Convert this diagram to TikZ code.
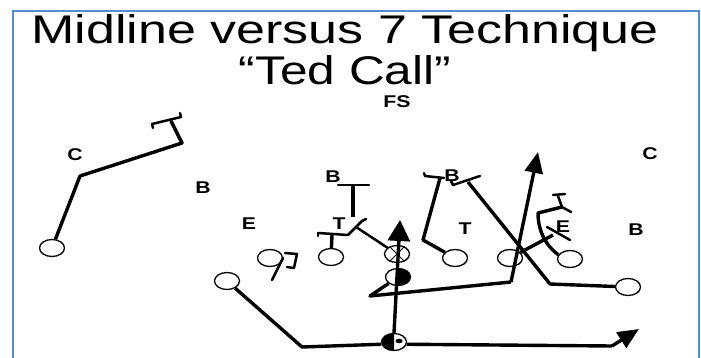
\documentclass[tikz,border=0pt]{standalone}
\usepackage{fontspec}
\setmainfont{Liberation Sans}
\usetikzlibrary{shapes.geometric,arrows.meta}
\definecolor{frameblue}{RGB}{91,139,207}
\begin{document}
\begin{tikzpicture}[x=1pt,y=-1pt,
 player/.style={draw,ellipse,line width=1.3pt,minimum width=25pt,minimum height=17pt,inner sep=0pt,fill=white},
 route/.style={line width=3.4pt,line join=round},
 thin route/.style={line width=2.5pt,line join=round,line cap=round},
 lbl/.style={font=\fontsize{17}{17}\selectfont\bfseries,xscale=1.25,inner sep=0pt},
 ttl/.style={font=\fontsize{40}{40}\selectfont,inner sep=0pt,anchor=base},
 bigarrow/.style={-{Triangle[length=21pt,width=22pt]}},
 midarrow/.style={-{Triangle[length=21pt,width=18pt]}}
]
\useasboundingbox (0,0) rectangle (701,358);
\draw[frameblue,line width=2pt] (12.5,11) rectangle (699,366);

% titles
\node[ttl,xscale=1.3] (t1) at (345,44) {Midline versus 7 Technique};
\node[ttl,xscale=1.24] (t2) at (345,85) {“Ted Call”};

% labels
\node[lbl] (fs) at (397,102) {FS};
\node[lbl] (cl) at (75,155) {C};
\node[lbl] (cr) at (650,154) {C};
\node[lbl] (b1) at (203,188) {B};
\node[lbl] (b2) at (333,177) {B};
\node[lbl] (b3) at (452,176) {B};
\node[lbl] (b4) at (636,230) {B};
\node[lbl] (e1) at (249,224) {E};
\node[lbl] (e2) at (563,227) {E};
\node[lbl] (t1l) at (339,224) {T};
\node[lbl] (t2l) at (465,229) {T};

% players
\node[player] (lc) at (52,248) {};
\node[player] (lwr) at (227,281) {};
\node[player] (lt) at (270,258) {};
\node[player] (lg) at (331,257) {};
\node[player] (ctr) at (397,254) {};
\node[player] (rb) at (398,277) {};
\node[player] (qb) at (394,342) {};
\node[player] (rg) at (455,258) {};
\node[player] (rt) at (510,258) {};
\node[player] (te) at (570,259) {};
\node[player] (wr) at (628,287) {};

% center X
\draw[line width=1pt] (ctr.135) -- (ctr.-45) (ctr.45) -- (ctr.-135);
% half-filled back
\begin{scope}
\clip ([yshift=-12pt]rb.center) rectangle ([xshift=15pt,yshift=12pt]rb.center);
\fill (rb.center) ellipse [x radius=12.5pt,y radius=8.5pt];
\end{scope}
% QB
\begin{scope}
\clip ([yshift=-12pt]qb.center) rectangle ([xshift=-15pt,yshift=12pt]qb.center);
\fill (qb.center) ellipse [x radius=12.5pt,y radius=8.5pt];
\end{scope}
\fill ([xshift=5pt,yshift=1pt]qb.center) ellipse [x radius=3.5pt,y radius=2.3pt];

% coordinates
\coordinate (cA) at (80,176);
\coordinate (cB) at (182,143);
\coordinate (cC) at (171,121);
\coordinate (cD) at (152,124);
\coordinate (cE) at (181,117);

\coordinate (ltA) at (283,258);
\coordinate (ltB) at (272,280);

\coordinate (lgA) at (332,235);
\coordinate (lgL) at (318,233);
\coordinate (lgR) at (348,235);
\coordinate (lgU) at (362,221);

\coordinate (bbL) at (338,185);
\coordinate (bbR) at (369,185);
\coordinate (bbM) at (353,185);
\coordinate (bbS) at (353,217);
\coordinate (lgD) at (356,227);

\coordinate (tip1) at (400,220);

\coordinate (rbA) at (370,296);
\coordinate (rbB) at (511,282);
\coordinate (tip2) at (538,152);

\coordinate (rgA) at (423,240);
\coordinate (rgB) at (440,178);
\coordinate (rgL) at (425,176);
\coordinate (rgR) at (444,178);

\coordinate (wrA) at (550,284);
\coordinate (wrB) at (468,182);
\coordinate (wrL) at (453,185);
\coordinate (wrR) at (480,176);

\coordinate (rtA) at (553,235);
\coordinate (rtL) at (547,227);
\coordinate (rtR) at (570,240);

\coordinate (teA) at (538,213);
\coordinate (teB) at (562,207);
\coordinate (teC) at (558,196);
\coordinate (teD) at (571,212);

\coordinate (qbL) at (302,347);
\coordinate (qbR) at (612,346);
\coordinate (tip3) at (639,329);

% routes
\draw[route] (lc) -- (cA) -- (cB) -- (cC);
\draw[thin route] (cD) -- (cE);
\draw[thin route] (cD) -- ++(1,4);
\draw[thin route] (cE) -- ++(-1,-4);

\draw[thin route] (ltA) -- (ltB);
\draw[thin route] (285,253) -- (297,254) -- (294,268) -- (287,267);

\draw[route] (lg) -- (lgA);
\draw[thin route] (lgL) -- (lgR) -- (lgU) -- ++(4,-2);
\draw[thin route] (lgL) -- ++(0,3);
\draw[thin route] (bbL) -- (bbR);
\draw[route] (bbM) -- (bbS);
\draw[thin route] (lgD) -- (ctr);

\draw[route,bigarrow] (qb.north) -- (tip1);

\draw[route] (rb) -- (rbA) -- (rbB);
\draw[route,midarrow] (rbB) -- (tip2);

\draw[route] (rg) -- (rgA) -- (rgB);
\draw[thin route] (rgL) -- (rgR);
\draw[thin route] (rgL) -- ++(-1,-3);

\draw[route] (wr) -- (wrA) -- (wrB);
\draw[thin route] (wrL) -- (wrR);
\draw[thin route] (wrL) -- ++(-2,-4);

\draw[route] (rt) -- (rtA);
\draw[thin route] (rtL) -- (rtR);

\draw[route] (te.160) .. controls (545,245) and (538,230) .. (teA) -- (teB);
\draw[thin route] (teB) -- (teC);
\draw[thin route] (553,195) -- (565,194);
\draw[thin route] (teB) -- (teD);

\draw[route] (qb.190) -- (qbL) -- (lwr);
\draw[route] (qb.-10) -- (qbR);
\draw[route,midarrow] (qbR) -- (tip3);
\end{tikzpicture}
\end{document}
